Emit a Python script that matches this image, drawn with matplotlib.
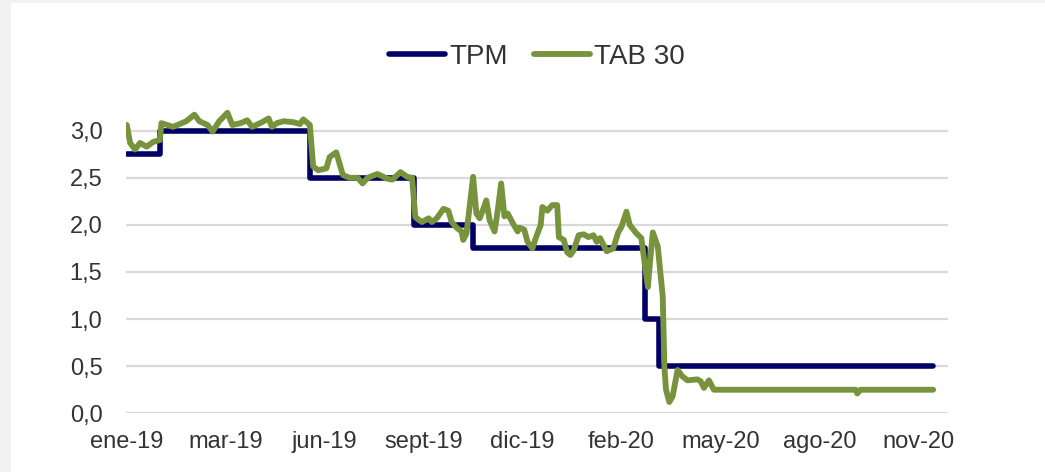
import matplotlib
matplotlib.use('Agg')
import matplotlib.pyplot as plt
from matplotlib.patches import Rectangle

plt.rcParams['font.family'] = ['Liberation Sans', 'DejaVu Sans']

# dia habil desde ene-19 (eje de categorias como en el original)
tpm_dia = [0, 20, 111, 174, 210, 314, 323, 489]
tpm_valor = [2.75, 3.0, 2.5, 2.0, 1.75, 1.0, 0.5, 0.5]

tab_dia = [0, 2, 5, 8, 12, 16, 20, 21, 28, 32, 36, 41, 44, 49, 52, 56, 61, 64, 69, 73,
           76, 82, 86, 88, 91, 95, 101, 105, 107, 111, 113, 116, 121, 123, 127, 131, 135, 140, 143, 146,
           152, 158, 161, 166, 170, 173, 175, 179, 183, 185, 188, 192, 195, 197, 200, 203, 204, 206, 210, 212,
           214, 216, 218, 220, 223, 225, 227, 229, 231, 234, 237, 238, 241, 243, 246, 248, 251, 252, 255, 258,
           261, 262, 265, 267, 269, 271, 274, 277, 280, 283, 285, 287, 291, 295, 298, 300, 303, 305, 309, 312,
           316, 317, 319, 322, 325, 326, 327, 329, 331, 334, 337, 340, 346, 348, 350, 353, 356, 360, 442, 443,
           445, 489]
tab_valor = [3.06, 2.87, 2.80, 2.87, 2.83, 2.88, 2.90, 3.08, 3.04, 3.07, 3.10, 3.17, 3.10, 3.06, 2.99, 3.10, 3.19, 3.06, 3.08, 3.11,
             3.04, 3.09, 3.13, 3.04, 3.08, 3.10, 3.09, 3.07, 3.12, 3.06, 2.62, 2.58, 2.60, 2.72, 2.77, 2.53, 2.50, 2.50, 2.44, 2.50,
             2.54, 2.49, 2.48, 2.56, 2.51, 2.50, 2.08, 2.03, 2.07, 2.03, 2.07, 2.17, 2.15, 2.03, 1.97, 1.93, 1.84, 1.91, 2.51, 2.12,
             2.07, 2.16, 2.26, 2.05, 1.93, 2.16, 2.44, 2.09, 2.12, 2.02, 1.93, 1.97, 1.95, 1.82, 1.75, 1.86, 2.00, 2.19, 2.15, 2.21,
             2.21, 1.87, 1.84, 1.71, 1.68, 1.73, 1.89, 1.90, 1.87, 1.89, 1.82, 1.86, 1.72, 1.75, 1.92, 1.98, 2.14, 2.00, 1.91, 1.86,
             1.34, 1.55, 1.92, 1.77, 1.24, 0.49, 0.25, 0.12, 0.18, 0.46, 0.39, 0.35, 0.36, 0.34, 0.27, 0.35, 0.25, 0.25, 0.25, 0.21,
             0.25, 0.25]

etiquetas = ['ene-19', 'mar-19', 'jun-19', 'sept-19', 'dic-19', 'feb-20', 'may-20', 'ago-20', 'nov-20']
paso_etiqueta = 60

azul = '#000066'
verde = '#77933C'
gris_texto = '#333333'

fig = plt.figure(figsize=(10.45, 4.72), dpi=100, facecolor='#f2f2f2')
fig.patches.append(Rectangle((11 / 1045, 0), 1, 1 - 3 / 472, transform=fig.transFigure,
                             facecolor='white', edgecolor='none', zorder=-5))
ax = fig.add_axes([126 / 1045, (472 - 413.3) / 472, (948 - 126) / 1045, (413.3 - 102.4) / 472])
ax.patch.set_alpha(0)

ax.plot(tpm_dia, tpm_valor, drawstyle='steps-post', color=azul, lw=4.0,
        solid_capstyle='round', label='TPM', zorder=3)
ax.plot(tab_dia, tab_valor, color=verde, lw=4.2, solid_capstyle='round',
        solid_joinstyle='round', label='TAB 30', zorder=4)

ax.set_xlim(-0.5, 498)
ax.set_ylim(0, 3.3)
ax.set_yticks([0, 0.5, 1.0, 1.5, 2.0, 2.5, 3.0])
ax.set_yticklabels([f'{v:.1f}'.replace('.', ',') for v in ax.get_yticks()])
ax.set_xticks([i * paso_etiqueta for i in range(len(etiquetas))])
ax.set_xticklabels(etiquetas)
ax.grid(axis='y', color='#d9d9d9', lw=1.6, zorder=1)
ax.set_axisbelow(True)
for s in ax.spines.values():
    s.set_visible(False)
ax.tick_params(axis='both', length=0, labelsize=17, colors=gris_texto)
ax.tick_params(axis='y', pad=17)
ax.tick_params(axis='x', pad=13)

ax.legend(loc='center', bbox_to_anchor=(537 / 1045, 1 - 57 / 472), bbox_transform=fig.transFigure,
          ncol=2, frameon=False, fontsize=20, handlelength=2.0, handletextpad=0.15,
          columnspacing=0.95, labelcolor=gris_texto)

fig.savefig('out.png', dpi=100, facecolor=fig.get_facecolor())
